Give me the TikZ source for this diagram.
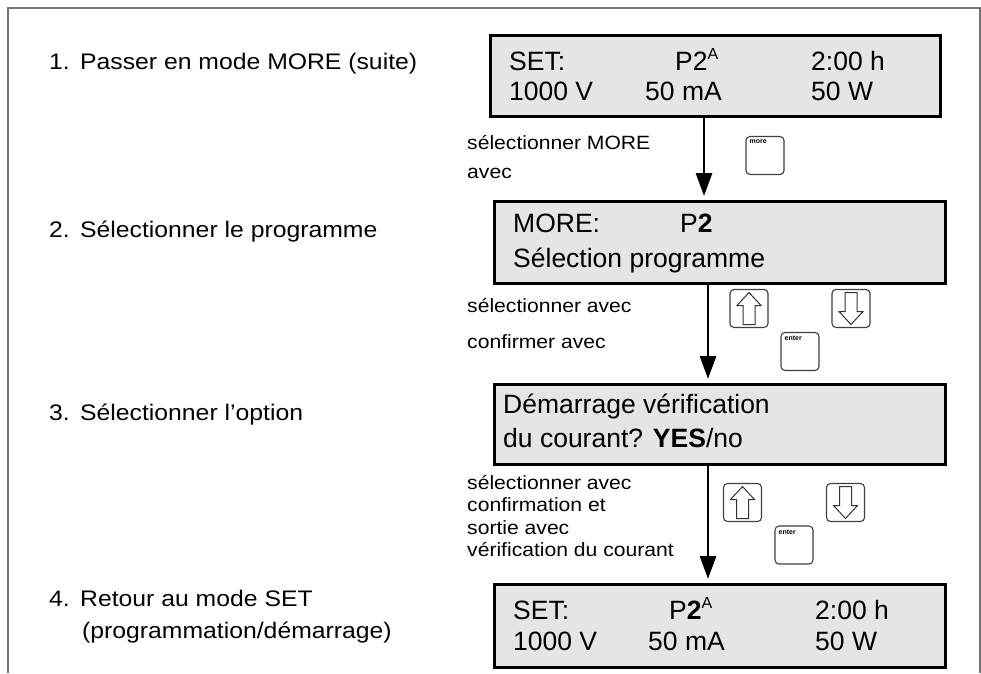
\documentclass[tikz,border=0pt]{standalone}
\usepackage{fontspec}
\setmainfont{Liberation Sans}
\newfontfamily\lblfont[FakeStretch=1.1]{Liberation Sans}
\usetikzlibrary{arrows.meta,calc}
\begin{document}
\begin{tikzpicture}[x=1pt,y=-1pt,
  frameline/.style={draw=black!55,line width=1.4pt},
  dispbox/.style={draw=black,fill=black!10,line width=2.8pt,anchor=north west,inner sep=0pt},
  disptext/.style={anchor=base west,inner sep=0pt,font=\fontsize{26.5}{30}\selectfont},
  steplbl/.style={anchor=base west,inner sep=0pt,font=\lblfont\fontsize{22.5}{26}\selectfont},
  actlbl/.style={anchor=base west,inner sep=0pt,font=\lblfont\fontsize{19.2}{22}\selectfont},
  flowarrow/.style={line width=2.9pt,-{Triangle[width=16pt,length=23pt]},shorten >=4pt},
  keybox/.style={draw=black!75,line width=1.1pt,rounded corners=4pt,minimum width=38pt,minimum height=38pt,inner sep=0pt},
  keytext/.style={anchor=north west,inner sep=0pt,font=\bfseries\fontsize{7}{8}\selectfont},
  hollow/.style={draw=black!80,line width=1pt,fill=white}
]
\newcommand\supA{\raisebox{11pt}{\fontsize{16}{16}\selectfont A}}
\useasboundingbox (0,0) rectangle (981,673);
\fill[white] (0,0) rectangle (981,673);
% frame
\coordinate (fbl) at (8,673);
\coordinate (ftl) at (8,8);
\coordinate (ftr) at (980,8);
\coordinate (fbr) at (980,673);
\draw[frameline] (fbl) -- (ftl) -- (ftr) -- (fbr);

% step labels
\node[steplbl] (s1) at (49,69) {\makebox[31pt][l]{1.}Passer en mode MORE (suite)};
\node[steplbl] (s2) at (49,237) {\makebox[31pt][l]{2.}Sélectionner le programme};
\node[steplbl] (s3) at (49,420) {\makebox[31pt][l]{3.}Sélectionner l’option};
\node[steplbl] (s4) at (49,606) {\makebox[31pt][l]{4.}Retour au mode SET};
\node[steplbl] (s4b) at (82,638) {(programmation/démarrage)};

% display boxes
\node[dispbox,minimum width=450pt,minimum height=81pt] (b1) at (489,34) {};
\node[dispbox,minimum width=451pt,minimum height=82pt] (b2) at (493,200) {};
\node[dispbox,minimum width=451pt,minimum height=80pt] (b3) at (493,383) {};
\node[dispbox,minimum width=451pt,minimum height=83pt] (b4) at (493,583) {};

% box 1 text
\node[disptext] (t11) at (509,70) {SET:};
\node[disptext] (t12) at (675,70) {P2\supA};
\node[disptext] (t13) at (811,70) {2:00 h};
\node[disptext] (t14) at (509,100) {1000 V};
\node[disptext] (t15) at (645,100) {50 mA};
\node[disptext] (t16) at (811,100) {50 W};
% box 2 text
\node[disptext] (t21) at (513,232) {MORE:};
\node[disptext] (t22) at (680,232) {P\textbf{2}};
\node[disptext] (t23) at (513,267) {Sélection programme};
% box 3 text
\node[disptext] (t31) at (503,413) {Démarrage vérification};
\node[disptext] (t32) at (503,447) {du courant? \textbf{YES}/no};
% box 4 text
\node[disptext] (t41) at (513,619) {SET:};
\node[disptext] (t42) at (669,619) {P\textbf{2}\supA};
\node[disptext] (t43) at (815,619) {2:00 h};
\node[disptext] (t44) at (513,650) {1000 V};
\node[disptext] (t45) at (648,650) {50 mA};
\node[disptext] (t46) at (815,650) {50 W};

% arrows
\coordinate (ax1) at (704,0);
\coordinate (ax2) at (708,0);
\draw[flowarrow] (b1.south -| ax1) -- (b2.north -| ax1);
\draw[flowarrow] (b2.south -| ax2) -- (b3.north -| ax2);
\draw[flowarrow] (b3.south -| ax2) -- (b4.north -| ax2);

% action labels
\node[actlbl] (a11) at (467,149) {sélectionner MORE};
\node[actlbl] (a12) at (467,178) {avec};
\node[actlbl] (a21) at (467,312) {sélectionner avec};
\node[actlbl] (a22) at (467,348) {confirmer avec};
\node[actlbl] (a31) at (467,489) {sélectionner avec};
\node[actlbl] (a32) at (467,511) {confirmation et};
\node[actlbl] (a33) at (467,534) {sortie avec};
\node[actlbl] (a34) at (467,556) {vérification du courant};

% keys
\node[keybox] (kmore) at (765,155.5) {};
\node[keytext] at ($(kmore.north west)+(4,4)$) {more};

\node[keybox] (kup2) at (749,308.5) {};
\node[keybox] (kdn2) at (851,308.5) {};
\node[keybox] (ken2) at (800,351.5) {};
\node[keytext] at ($(ken2.north west)+(4,4)$) {enter};

\node[keybox] (kup3) at (742.5,502.5) {};
\node[keybox] (kdn3) at (845.5,502.5) {};
\node[keybox] (ken3) at (794,545) {};
\node[keytext] at ($(ken3.north west)+(4,4)$) {enter};

\foreach \k in {kup2,kup3}{
  \begin{scope}[shift={(\k.center)}]
    \draw[hollow] (0,-16) -- (12,-3) -- (6,-3) -- (6,16) -- (-6,16) -- (-6,-3) -- (-12,-3) -- cycle;
  \end{scope}
}
\foreach \k in {kdn2,kdn3}{
  \begin{scope}[shift={(\k.center)}]
    \draw[hollow] (0,16) -- (12,3) -- (6,3) -- (6,-16) -- (-6,-16) -- (-6,3) -- (-12,3) -- cycle;
  \end{scope}
}
\end{tikzpicture}
\end{document}
